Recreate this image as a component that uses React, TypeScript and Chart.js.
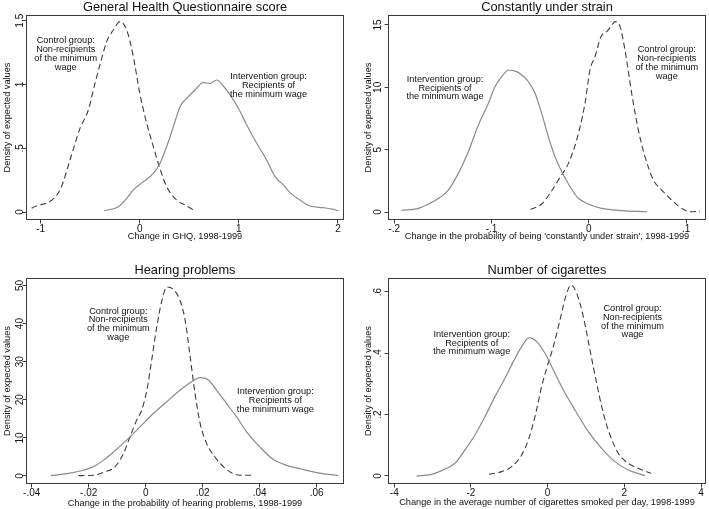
import React, { useEffect, useRef } from "react";
import { Chart, registerables } from "chart.js";

Chart.register(...registerables);

const FONT = "'Liberation Sans', Arial, Helvetica, sans-serif";
const TEXT = "#111111";
const FRAME = "#3a3a3a";
const SOLID = "#8a8a8a";
const DASH = "#3c3c3c";
const TITLE_SIZE = 12.8;
const AXIS_SIZE = 9.2;
const TICK_SIZE = 10;
const NOTE_SIZE = 9.2;
const NOTE_LINE = 8.8;

// ---------- Panel 1: General Health Questionnaire score ----------
const ghqTitle = "General Health Questionnaire score";
const ghqXLabel = "Change in GHQ, 1998-1999";
const ghqXTicks = [-1, 0, 1, 2];
const ghqYTicks = [0, 0.5, 1, 1.5];
const ghqControlX = [-1.091, -0.805, -0.704, -0.603, -0.519, -0.452, -0.384, -0.334, -0.267, -0.199, -0.132, -0.065, 0.0, 0.07, 0.137, 0.197, 0.271, 0.372, 0.456, 0.541];
const ghqControlY = [0.029, 0.173, 0.408, 0.656, 0.8, 1.009, 1.205, 1.336, 1.427, 1.493, 1.427, 1.218, 0.931, 0.695, 0.512, 0.356, 0.199, 0.094, 0.055, 0.016];
const ghqInterventionX = [-0.358, -0.216, -0.132, -0.065, 0.036, 0.137, 0.204, 0.271, 0.339, 0.406, 0.473, 0.557, 0.641, 0.709, 0.776, 0.843, 0.911, 0.995, 1.079, 1.18, 1.28, 1.365, 1.449, 1.516, 1.617, 1.718, 1.852, 1.953, 2.004];
const ghqInterventionY = [0.01, 0.042, 0.107, 0.173, 0.238, 0.303, 0.382, 0.512, 0.669, 0.826, 0.891, 0.957, 1.014, 1.009, 1.035, 0.988, 0.918, 0.813, 0.682, 0.539, 0.408, 0.277, 0.212, 0.152, 0.094, 0.047, 0.034, 0.021, 0.01];

// ---------- Panel 2: Constantly under strain ----------
const strainTitle = "Constantly under strain";
const strainXLabel = "Change in the probability of being 'constantly under strain', 1998-1999";
const strainXTicks = [-0.2, -0.1, 0, 0.1];
const strainYTicks = [0, 5, 10, 15];
const strainInterventionX = [-0.1925, -0.1753, -0.1633, -0.153, -0.1445, -0.1342, -0.1239, -0.1136, -0.1033, -0.0965, -0.0896, -0.0821, -0.0742, -0.069, -0.0629, -0.0553, -0.0485, -0.0416, -0.0348, -0.0279, -0.0193, -0.0108, -0.0005, 0.0132, 0.0338, 0.0595];
const strainInterventionY = [0.13, 0.29, 0.7, 1.18, 1.76, 3.1, 4.84, 6.98, 8.72, 10.05, 10.86, 11.39, 11.26, 10.99, 10.53, 9.52, 7.91, 6.04, 4.44, 3.24, 2.03, 1.1, 0.64, 0.29, 0.11, 0.03];
const strainControlX = [-0.0598, -0.0485, -0.0399, -0.0313, -0.021, -0.0125, -0.0039, 0.0012, 0.0064, 0.0125, 0.0184, 0.0228, 0.0269, 0.0321, 0.0372, 0.0441, 0.0509, 0.0578, 0.0664, 0.075, 0.0852, 0.0955, 0.1041, 0.1144];
const strainControlY = [0.21, 0.64, 1.5, 2.57, 3.9, 5.78, 8.72, 11.39, 12.46, 14.06, 14.47, 14.87, 15.27, 14.87, 12.99, 9.52, 6.58, 4.44, 2.57, 1.76, 0.96, 0.29, 0.02, 0.05];

// ---------- Panel 3: Hearing problems ----------
const hearTitle = "Hearing problems";
const hearXLabel = "Change in the probability of hearing problems, 1998-1999";
const hearXTicks = [-0.04, -0.02, 0, 0.02, 0.04, 0.06];
const hearYTicks = [0, 10, 20, 30, 40, 50];
const hearInterventionX = [-0.0333, -0.0277, -0.0219, -0.0184, -0.0149, -0.0113, -0.0067, -0.002, 0.0027, 0.0074, 0.012, 0.0156, 0.0191, 0.022, 0.0249, 0.0284, 0.0319, 0.0354, 0.0401, 0.0448, 0.0495, 0.0542, 0.06, 0.0676];
const hearInterventionY = [0.1, 0.6, 1.5, 2.4, 4.1, 6.3, 9.4, 12.9, 16.4, 19.5, 22.5, 24.5, 25.8, 25.2, 22.5, 19.0, 15.5, 11.6, 7.6, 4.3, 2.8, 1.9, 0.9, 0.1];
const hearControlX = [-0.0236, -0.0184, -0.0143, -0.0108, -0.0078, -0.0055, -0.0032, -0.0014, 0.0004, 0.0021, 0.0039, 0.0056, 0.0074, 0.0097, 0.012, 0.0138, 0.0156, 0.0173, 0.0191, 0.0214, 0.0243, 0.0273, 0.0308, 0.0331, 0.0372];
const hearControlY = [0.1, 0.2, 1.1, 2.4, 5.9, 10.3, 14.6, 17.3, 22.5, 30.4, 39.2, 45.8, 49.6, 49.0, 46.2, 41.0, 31.3, 21.7, 13.8, 8.5, 5.0, 2.4, 0.6, 0.2, 0.2];

// ---------- Panel 4: Number of cigarettes ----------
const cigTitle = "Number of cigarettes";
const cigXLabel = "Change in the average number of cigarettes smoked per day, 1998-1999";
const cigXTicks = [-4, -2, 0, 2, 4];
const cigYTicks = [0, 0.2, 0.4, 0.6];
const cigInterventionX = [-3.417, -3.026, -2.765, -2.417, -2.157, -1.896, -1.635, -1.374, -1.113, -0.896, -0.678, -0.487, -0.287, -0.07, 0.148, 0.409, 0.713, 1.061, 1.409, 1.757, 2.104, 2.539];
const cigInterventionY = [0.0, 0.0054, 0.0174, 0.0413, 0.0848, 0.1337, 0.1935, 0.2587, 0.3185, 0.3728, 0.4217, 0.4511, 0.438, 0.4, 0.3457, 0.2804, 0.2152, 0.1446, 0.0902, 0.0467, 0.0196, 0.0011];
const cigControlX = [-1.53, -1.2, -0.939, -0.678, -0.504, -0.33, -0.157, -0.026, 0.148, 0.322, 0.47, 0.609, 0.757, 0.93, 1.104, 1.278, 1.452, 1.626, 1.843, 2.104, 2.365, 2.696];
const cigControlY = [0.0054, 0.0141, 0.0304, 0.0685, 0.1174, 0.1935, 0.2913, 0.3511, 0.4217, 0.5087, 0.5848, 0.6228, 0.5957, 0.5196, 0.4109, 0.3022, 0.2043, 0.1337, 0.0739, 0.0413, 0.025, 0.0087];

const yAxisLabel = "Density of expected values";
const controlNote = ["Control group:", "Non-recipients", "of the minimum", "wage"];
const interventionNote = ["Intervention group:", "Recipients of", "the minimum wage"];

type Note = { x: number; y: number; lines: string[] };
type Panel = {
  left: number; top: number; width: number; height: number;
  box: { l: number; t: number; r: number; b: number };
  title: string; titleY: number;
  xLabel: string; xTitlePad: number;
  yTitlePad: number; yTickPad: number;
  xMin: number; xMax: number; yMin: number; yMax: number;
  xTicks: number[]; yTicks: number[];
  controlX: number[]; controlY: number[];
  interventionX: number[]; interventionY: number[];
  notes: Note[];
};

const panels: Panel[] = [
  {
    left: 0, top: 0, width: 354, height: 254,
    box: { l: 26.5, t: 15.5, r: 343.5, b: 219.5 },
    title: ghqTitle, titleY: 7.3,
    xLabel: ghqXLabel, xTitlePad: 12.2,
    yTitlePad: 2.0, yTickPad: -4.45,
    xMin: -1.143, xMax: 2.0555, yMin: -0.0588, yMax: 1.5408,
    xTicks: ghqXTicks, yTicks: ghqYTicks,
    controlX: ghqControlX, controlY: ghqControlY,
    interventionX: ghqInterventionX, interventionY: ghqInterventionY,
    notes: [
      { x: -0.747, y: 1.344, lines: controlNote },
      { x: 1.299, y: 1.061, lines: interventionNote },
    ],
  },
  {
    left: 354, top: 0, width: 355, height: 254,
    box: { l: 34.5, t: 15.5, r: 351.5, b: 219.5 },
    title: strainTitle, titleY: 7.3,
    xLabel: strainXLabel, xTitlePad: 12.3,
    yTitlePad: 8.8, yTickPad: 0.64,
    xMin: -0.206, xMax: 0.12, yMin: -0.6016, yMax: 15.762,
    xTicks: strainXTicks, yTicks: strainYTicks,
    controlX: strainControlX, controlY: strainControlY,
    interventionX: strainInterventionX, interventionY: strainInterventionY,
    notes: [
      { x: -0.1479, y: 10.64, lines: interventionNote },
      { x: 0.0802, y: 13.0, lines: controlNote },
    ],
  },
  {
    left: 0, top: 254, width: 354, height: 255,
    box: { l: 26.5, t: 24.5, r: 343.5, b: 229.5 },
    title: hearTitle, titleY: 16.3,
    xLabel: hearXLabel, xTitlePad: 0,
    yTitlePad: 2.0, yTickPad: -3.06,
    xMin: -0.04182, xMax: 0.0694, yMin: -1.969, yMax: 51.84,
    xTicks: hearXTicks, yTicks: hearYTicks,
    controlX: hearControlX, controlY: hearControlY,
    interventionX: hearInterventionX, interventionY: hearInterventionY,
    notes: [
      { x: -0.0096, y: 43.3, lines: controlNote },
      { x: 0.0455, y: 22.1, lines: interventionNote },
    ],
  },
  {
    left: 354, top: 254, width: 355, height: 255,
    box: { l: 34.5, t: 24.5, r: 351.5, b: 229.5 },
    title: cigTitle, titleY: 16.3,
    xLabel: cigXLabel, xTitlePad: 0.8,
    yTitlePad: 8.8, yTickPad: 2.03,
    xMin: -4.151, xMax: 4.117, yMin: -0.0246, yMax: 0.644,
    xTicks: cigXTicks, yTicks: cigYTicks,
    controlX: cigControlX, controlY: cigControlY,
    interventionX: cigInterventionX, interventionY: cigInterventionY,
    notes: [
      { x: -1.981, y: 0.462, lines: interventionNote },
      { x: 2.213, y: 0.5466, lines: controlNote },
    ],
  },
];

function fmt(v: number): string {
  const s = String(Math.round(v * 1e6) / 1e6);
  return s.replace(/^(-?)0\./, "$1.");
}

function toPoints(xs: number[], ys: number[]) {
  return xs.map((x, i) => ({ x, y: ys[i] }));
}

function ChartPanel({ p }: { p: Panel }) {
  const ref = useRef<HTMLCanvasElement | null>(null);

  useEffect(() => {
    const canvas = ref.current;
    if (!canvas) return;

    const overlay = {
      id: "frameNotesTitle",
      afterDatasetsDraw(chart: any) {
        const { ctx, chartArea, scales } = chart;
        ctx.save();
        ctx.strokeStyle = FRAME;
        ctx.lineWidth = 1;
        ctx.setLineDash([]);
        ctx.strokeRect(
          chartArea.left,
          chartArea.top,
          chartArea.right - chartArea.left,
          chartArea.bottom - chartArea.top
        );
        ctx.fillStyle = TEXT;
        ctx.textAlign = "center";
        ctx.textBaseline = "middle";
        ctx.font = `${NOTE_SIZE}px ${FONT}`;
        p.notes.forEach((n) => {
          const x = scales.x.getPixelForValue(n.x);
          const y0 = scales.y.getPixelForValue(n.y);
          n.lines.forEach((line, i) => ctx.fillText(line, x, y0 + i * NOTE_LINE));
        });
        ctx.font = `${TITLE_SIZE}px ${FONT}`;
        ctx.fillText(p.title, (chartArea.left + chartArea.right) / 2, p.titleY);
        ctx.restore();
      },
    };

    const chart = new Chart(canvas, {
      type: "scatter",
      data: {
        datasets: [
          {
            label: "Intervention group: Recipients of the minimum wage",
            data: toPoints(p.interventionX, p.interventionY),
            showLine: true,
            borderColor: SOLID,
            borderWidth: 1.2,
            pointRadius: 0,
            cubicInterpolationMode: "monotone",
            fill: false,
          },
          {
            label: "Control group: Non-recipients of the minimum wage",
            data: toPoints(p.controlX, p.controlY),
            showLine: true,
            borderColor: DASH,
            borderWidth: 1.1,
            borderDash: [6, 3.5],
            pointRadius: 0,
            cubicInterpolationMode: "monotone",
            fill: false,
          },
        ],
      },
      options: {
        responsive: false,
        animation: false,
        events: [],
        layout: {
          padding: { left: 0, top: p.box.t, right: p.width - p.box.r, bottom: 0 },
        },
        plugins: {
          legend: { display: false },
          tooltip: { enabled: false },
          title: { display: false },
        },
        scales: {
          x: {
            type: "linear",
            position: "bottom",
            min: p.xMin,
            max: p.xMax,
            afterBuildTicks: (s: any) => {
              s.ticks = p.xTicks.map((v) => ({ value: v }));
            },
            afterFit: (s: any) => {
              s.height = p.height - p.box.b;
            },
            ticks: {
              callback: (v: any) => fmt(Number(v)),
              font: { family: FONT, size: TICK_SIZE },
              color: TEXT,
              padding: 0,
              maxRotation: 0,
              minRotation: 0,
              autoSkip: false,
            },
            grid: {
              display: true,
              drawOnChartArea: false,
              drawTicks: true,
              tickLength: 4,
              color: FRAME,
              lineWidth: 1,
            },
            border: { display: false },
            title: {
              display: true,
              text: p.xLabel,
              font: { family: FONT, size: AXIS_SIZE },
              color: TEXT,
              padding: { top: 0, bottom: p.xTitlePad },
            },
          },
          y: {
            type: "linear",
            position: "left",
            min: p.yMin,
            max: p.yMax,
            afterBuildTicks: (s: any) => {
              s.ticks = p.yTicks.map((v) => ({ value: v }));
            },
            afterFit: (s: any) => {
              s.width = p.box.l;
            },
            ticks: {
              callback: (v: any) => fmt(Number(v)),
              font: { family: FONT, size: TICK_SIZE },
              color: TEXT,
              padding: p.yTickPad,
              minRotation: 90,
              maxRotation: 90,
              crossAlign: "center",
              autoSkip: false,
            },
            grid: {
              display: true,
              drawOnChartArea: false,
              drawTicks: true,
              tickLength: 4,
              color: FRAME,
              lineWidth: 1,
            },
            border: { display: false },
            title: {
              display: true,
              text: yAxisLabel,
              font: { family: FONT, size: AXIS_SIZE },
              color: TEXT,
              padding: { top: p.yTitlePad, bottom: 0 },
            },
          },
        },
      },
      plugins: [overlay],
    } as any);

    return () => chart.destroy();
  }, [p]);

  return (
    <canvas
      ref={ref}
      width={p.width}
      height={p.height}
      style={{
        position: "absolute",
        left: p.left,
        top: p.top,
        width: p.width,
        height: p.height,
      }}
    />
  );
}

export default function App() {
  return (
    <div
      style={{
        position: "fixed",
        left: 0,
        top: 0,
        width: 709,
        height: 509,
        background: "#ffffff",
        overflow: "hidden",
      }}
    >
      {panels.map((p, i) => (
        <ChartPanel key={i} p={p} />
      ))}
    </div>
  );
}
